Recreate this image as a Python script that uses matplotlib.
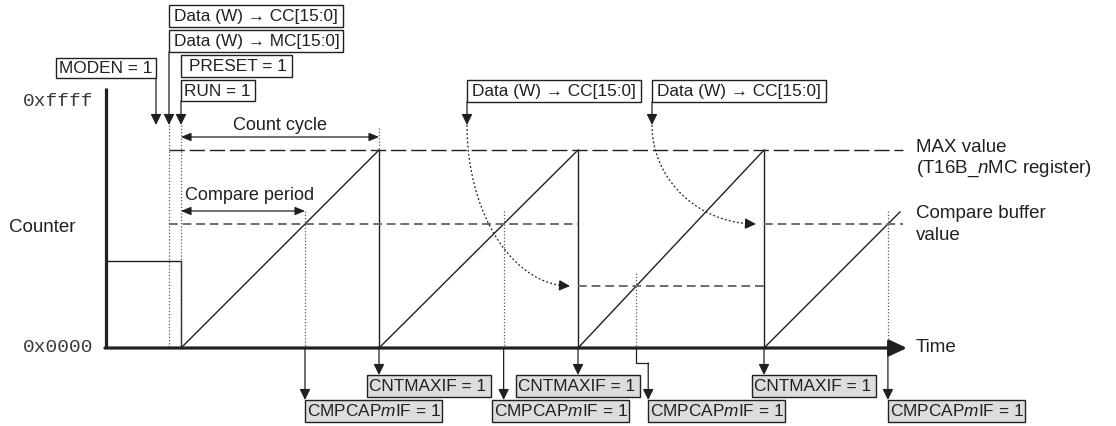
import numpy as np
import matplotlib.pyplot as plt
from matplotlib.patches import Rectangle

plt.rcParams['font.family'] = ['Liberation Sans', 'DejaVu Sans']
plt.rcParams['mathtext.fontset'] = 'custom'
plt.rcParams['mathtext.rm'] = 'Liberation Sans'
plt.rcParams['mathtext.it'] = 'Liberation Sans:italic'

# ---- timing data (time in counter clocks, 0 = RUN) ----
counter_top = 0xFFFF
max_value = 49900
preset_value = 21930
axis_time = -75
moden_time = -25
write_time = -12          # Data (W) -> CC / MC
run_time = 0
line_end = 722
time_end = 726

ramp_starts = [0, 198, 397, 583]
ramp_ends = [198, 397, 583, 719]
ramp_end_values = [49900, 49900, 49900, 34300]

# compare buffer contents over time
buffer_starts = [-12, 397, 583]
buffer_ends = [397, 583, 722]
buffer_values = [31250, 15620, 31250]

cc_write_times = [286, 471]

# ---- layout: figure pixels ----
W, H = 1116, 426
PX_RUN = 181      # pixel x of time 0
PX_BASE = 348     # pixel y of counter 0
PX_TOP = 88       # pixel y of 0xffff
K = counter_top / (PX_BASE - PX_TOP)

ink = '#231f20'
dash_gray = '#6d6e71'
dot_gray = '#58595b'
BOX_FS = 12.4
LBL_FS = 13.5


def row(py):
    return (PX_BASE - py) * K


def col(px):
    return px - PX_RUN


fig = plt.figure(figsize=(W / 100, H / 100), dpi=100)
ax = fig.add_axes([0, 0, 1, 1])
ax.set_xlim(col(0), col(W))
ax.set_ylim(row(H), row(0))
ax.axis('off')


def arrow(x0, y0, x1, y1, lw=0.9, scale=10, style='-|>,head_length=0.65,head_width=0.32'):
    ax.annotate('', xy=(x1, y1), xytext=(x0, y0),
                arrowprops=dict(arrowstyle=style, mutation_scale=scale, lw=lw,
                                color=ink, shrinkA=0, shrinkB=0))


def box(px, py, w, h, label, fill='white', pad=4):
    ax.add_patch(Rectangle((col(px), row(py + h)), w, h * K, facecolor=fill,
                           edgecolor=ink, lw=1.0, zorder=3))
    ax.text(col(px) + pad, row(py + h / 2 + 0.5), label, ha='left', va='center',
            fontsize=BOX_FS, color=ink, zorder=4)


def dotted(x, y0, y1):
    ax.plot([x, x], [y0, y1], color=dot_gray, lw=0.9, ls=(0, (1, 1.6)))


# ---- axes ----
ax.plot([axis_time, axis_time], [0, counter_top], color=ink, lw=2.3, solid_capstyle='butt')
ax.annotate('', xy=(time_end, 0), xytext=(axis_time - 1, 0),
            arrowprops=dict(arrowstyle='-|>,head_length=0.75,head_width=0.35',
                            mutation_scale=14, lw=2.3, color=ink, shrinkA=0, shrinkB=0))

# ---- counter waveform ----
ax.plot([axis_time, run_time, run_time], [preset_value, preset_value, 0], color=ink, lw=1.0)
for s, e, v in zip(ramp_starts, ramp_ends, ramp_end_values):
    ax.plot([s, e], [0, v], color=ink, lw=1.0)
    if v == max_value:
        ax.plot([e, e], [v, 0], color=ink, lw=1.0)

# MAX value line
ax.plot([write_time, line_end], [max_value, max_value], color=ink, lw=1.0, ls=(0, (11, 3.5)))
# compare buffer lines
for s, e, v in zip(buffer_starts, buffer_ends, buffer_values):
    ax.plot([s, e], [v, v], color=dash_gray, lw=1.4, ls=(0, (4.5, 2.5)))

# compare match times
match_times = []
for s, e, v in zip(ramp_starts, ramp_ends, ramp_end_values):
    cmp_v = [bv for bs, be, bv in zip(buffer_starts, buffer_ends, buffer_values) if bs <= s < be][0]
    match_times.append(s + (e - s) * cmp_v / v)
    dotted(match_times[-1], cmp_v + 13 * K, 0)

# ---- top annotations ----
tip = row(125)
box(56, 58, 100, 20, 'MODEN = 1', pad=3)
arrow(moden_time, row(78), moden_time, tip)
box(169, 5, 174, 22, 'Data (W) \u2192 CC[15:0]', pad=5)
box(169, 30, 174, 22, 'Data (W) \u2192 MC[15:0]', pad=5)
arrow(write_time, row(52), write_time, tip)
box(181, 55, 111, 22, 'PRESET = 1', pad=8)
box(181, 80, 74, 21, 'RUN = 1', pad=3)
arrow(run_time, row(101), run_time, tip)
dotted(write_time, tip, 0)
dotted(run_time, tip, 0)

# count cycle / compare period
dotted(ramp_ends[0], row(128), max_value)
arrow(run_time, row(137), ramp_ends[0], row(137),
      style='<|-|>,head_length=0.6,head_width=0.25')
ax.text((run_time + ramp_ends[0]) / 2, row(125), 'Count cycle', ha='center', va='center',
        fontsize=LBL_FS - 0.5, color=ink)
arrow(run_time, row(211), match_times[0], row(211),
      style='<|-|>,head_length=0.6,head_width=0.25')
ax.text(run_time + 4, row(195), 'Compare period', ha='left', va='center',
        fontsize=LBL_FS - 0.5, color=ink)

# CC writes and buffer transfer curves
for i, wt in enumerate(cc_write_times):
    box(PX_RUN + wt, 80, 174, 22, 'Data (W) \u2192 CC[15:0]', pad=5)
    arrow(wt, row(102), wt, tip)
    end_t = buffer_starts[i + 1] - 8
    end_v = buffer_values[i + 1]
    th = np.linspace(0, np.pi / 2, 60)
    cx = end_t - (end_t - wt) * np.cos(th)
    cy = tip - (tip - end_v) * np.sin(th)
    ax.plot(cx[:-3], cy[:-3], color=ink, lw=0.9, ls=(0, (1.5, 1.8)))
    arrow(cx[-4], cy[-4], end_t, end_v)

# ---- bottom flags ----
gray = '#dcdddd'
cnt_offsets = [-12, -62, -12]
for e, off in zip(ramp_ends[:3], cnt_offsets):
    arrow(e, 0, e, row(375))
    box(PX_RUN + e + off, 375, 124, 22, 'CNTMAXIF = 1', fill=gray, pad=2)

cmp_offsets = [0, -12, 12, 0]
for i, (m, off) in enumerate(zip(match_times, cmp_offsets)):
    if i == 2:
        ax.plot([m, m, m + off], [0, row(363), row(363)], color=ink, lw=0.9)
        arrow(m + off, row(363), m + off, row(400))
    else:
        arrow(m, 0, m, row(400))
    box(PX_RUN + m + off, 400, 137, 22, 'CMPCAP$m$IF = 1', fill=gray, pad=2)

# ---- labels ----
ax.text(col(93), row(102), '0xffff', ha='right', va='center', fontsize=14,
        family='Liberation Mono', color='#3a3a3a')
ax.text(col(93), row(348), '0x0000', ha='right', va='center', fontsize=14,
        family='Liberation Mono', color='#3a3a3a')
ax.text(col(9), row(227), 'Counter', ha='left', va='center', fontsize=LBL_FS, color=ink)
ax.text(col(916), row(147), 'MAX value', ha='left', va='center', fontsize=LBL_FS, color=ink)
ax.text(col(916), row(169), '(T16B_$n$MC register)', ha='left', va='center', fontsize=LBL_FS, color=ink)
ax.text(col(916), row(213), 'Compare buffer', ha='left', va='center', fontsize=LBL_FS, color=ink)
ax.text(col(916), row(236), 'value', ha='left', va='center', fontsize=LBL_FS, color=ink)
ax.text(col(916), row(348), 'Time', ha='left', va='center', fontsize=LBL_FS, color=ink)

fig.savefig('out.png', dpi=100)
